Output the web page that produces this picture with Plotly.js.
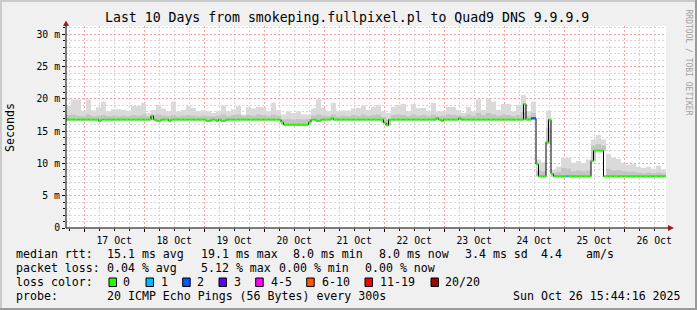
<!DOCTYPE html>
<html><head><meta charset="utf-8">
<script src="https://cdn.plot.ly/plotly-3.0.1.min.js"></script>
<style>html,body{margin:0;padding:0;background:#f0f0f0;}#chart{width:697px;height:310px;}</style>
</head><body><div id="chart"></div>
<script>
// ---- data ----
const startTime = Date.UTC(2025, 9, 16, 16, 44, 16);
const endTime = Date.UTC(2025, 9, 26, 16, 44, 16);
const titleText = 'Last 10 Days from smokeping.fullpixel.pl to Quad9 DNS 9.9.9.9';
const yTickVals = [0, 5, 10, 15, 20, 25, 30];
const yTickText = ['0', '5 m', '10 m', '15 m', '20 m', '25 m', '30 m'];
const yMinorVals = [1,2,3,4,6,7,8,9,11,12,13,14,16,17,18,19,21,22,23,24,26,27,28,29,31];

// hourly median RTT (ms), 240 hours
const medianRtt = [
16.8,16.8,16.8,16.8,16.8,16.8,16.8,16.8,16.8,16.8,16.8,16.8,16.8,16.6,16.8,16.8,16.8,16.8,16.8,16.8,16.8,16.8,16.8,16.8,
16.8,16.8,16.8,16.8,16.8,16.8,16.8,16.8,16.8,16.8,17.4,16.8,16.6,16.6,16.8,16.8,16.8,16.6,16.8,16.8,16.8,16.8,16.8,16.8,
16.8,16.8,16.8,16.8,16.8,16.8,16.8,16.8,16.6,16.6,16.8,16.8,16.6,16.8,16.6,16.6,16.8,16.8,16.8,16.8,16.8,16.8,16.8,16.8,
16.8,16.8,16.8,16.8,16.8,16.8,16.8,16.8,16.8,16.8,16.8,16.8,16.8,16.8,16.4,16.0,16.0,16.0,16.0,16.0,16.0,16.0,16.0,16.0,
16.0,16.4,16.8,16.8,16.6,16.6,16.8,16.8,16.8,16.8,17.0,16.8,16.8,16.8,16.8,16.8,16.8,16.8,16.8,16.8,16.8,16.8,16.8,16.8,
16.8,16.8,16.8,16.8,16.8,16.8,16.8,16.3,15.9,16.8,16.8,16.8,16.8,16.8,16.8,16.8,16.8,16.8,16.8,16.8,16.8,16.8,16.8,16.8,
16.8,16.8,16.8,16.8,17.0,16.8,16.6,16.8,16.8,16.8,16.8,16.8,16.8,17.0,16.8,16.8,16.8,16.8,16.8,16.8,16.8,16.8,16.8,16.8,
16.8,16.8,16.8,16.8,16.8,16.8,16.8,16.8,16.8,16.8,16.8,16.8,16.8,16.8,16.8,19.2,16.8,16.8,17.0,17.0,9.9,8.0,8.0,8.0,
13.3,16.8,8.4,8.0,8.0,8.0,8.0,8.0,8.0,8.0,8.0,8.0,8.0,8.0,8.0,8.0,8.0,8.0,10.4,12.0,12.0,12.0,12.0,8.0,
8.0,8.0,8.0,8.0,8.0,8.0,8.0,8.0,8.0,8.0,8.0,8.0,8.0,8.0,8.0,8.0,8.0,8.0,8.0,8.0,8.0,8.0,8.0,8.0
];
// hours with packet loss and the number of lost pings
const lossHours = [186, 187, 200];
const lossCounts = [2, 2, 1];

// smoke per 2-hour bin, 120 bins (ms)
const smokeLo = [
16.7,16.7,16.7,16.7,16.7,16.7,16.7,16.7,16.7,16.7,16.7,16.7,16.7,16.7,16.7,16.7,16.7,16.7,16.7,16.7,16.7,16.7,16.7,16.7,
16.7,16.7,16.7,16.7,16.7,16.7,16.7,16.7,16.7,16.7,16.7,16.7,16.7,16.7,16.7,16.7,16.7,16.7,16.7,16.0,16.0,16.0,16.0,16.0,
16.0,16.7,16.7,16.7,16.7,16.7,16.7,16.7,16.7,16.7,16.7,16.7,16.7,16.7,16.7,16.3,15.9,16.7,16.7,16.7,16.7,16.7,16.7,16.7,
16.7,16.7,16.7,16.7,16.7,16.7,16.7,16.7,16.7,16.7,16.7,16.7,16.7,16.7,16.7,16.7,16.7,16.7,16.7,16.7,16.7,16.7,8.0,8.0,
13.0,8.0,8.0,8.0,8.0,8.0,8.0,8.0,8.0,10.4,12.0,12.0,8.0,8.0,8.0,8.0,8.0,8.0,8.0,8.0,8.0,8.0,8.0,8.0
];
const smokeMid = [
17.5,17.6,17.4,17.3,17.6,17.3,17.4,17.5,17.3,17.4,17.3,17.4,17.3,17.5,17.4,17.6,17.3,17.5,17.6,17.4,17.3,17.5,17.3,17.4,
17.5,17.4,17.3,17.4,17.3,17.3,17.4,17.6,17.3,17.5,17.6,17.3,17.5,17.4,17.6,17.5,17.3,17.6,17.4,16.8,16.9,16.8,16.9,16.8,
16.9,17.4,17.6,17.4,17.3,17.6,17.3,17.4,17.3,17.5,17.4,17.6,17.4,17.5,17.6,17.2,16.8,17.5,17.6,17.5,17.3,17.6,17.4,17.5,
17.3,17.6,17.3,17.4,17.6,17.5,17.4,17.3,17.6,17.4,17.8,17.5,17.8,17.6,17.4,17.6,17.5,17.3,17.5,18.0,17.3,17.8,8.9,8.8,
15.5,8.5,8.7,9.3,9.2,8.8,8.9,8.8,8.9,12.8,13.0,12.8,9.2,8.9,9.0,8.8,8.7,8.7,8.6,8.5,8.6,8.5,8.6,8.5
];
const smokeHi = [
18.9,19.9,19.9,18.2,19.9,18.2,18.7,19.6,18.1,18.4,18.4,18.3,18.1,18.9,18.9,19.4,17.8,18.3,19.1,18.5,18.1,19.6,18.1,18.3,
18.9,18.6,18.1,18.2,18.1,17.8,18.1,19.0,18.1,18.4,18.9,17.6,18.7,18.5,18.8,18.7,18.1,19.4,18.3,17.6,18.1,17.8,18.1,17.6,
17.6,18.5,19.9,18.6,18.1,19.4,18.1,18.2,18.2,18.5,18.6,19.0,18.3,18.8,19.1,18.1,17.8,18.8,19.1,19.2,18.1,19.2,18.6,18.6,
18.1,19.4,18.1,18.1,18.8,18.8,18.3,17.8,18.8,18.1,19.9,18.3,20.1,19.6,18.3,19.2,19.2,18.1,19.1,20.6,18.1,19.6,10.6,10.2,
18.2,9.0,9.5,10.9,10.9,10.1,10.4,10.1,10.6,13.7,14.4,13.7,11.5,10.9,10.7,10.1,9.8,9.9,9.5,9.3,9.5,9.2,9.6,9.1
];

const lossLabels = ['0', '1', '2', '3', '4-5', '6-10', '11-19', '20/20'];
const lossColors = ['#26ff00', '#00b8ff', '#0059ff', '#6200ff', '#ff00ff', '#ff5500', '#ff0000', '#a10000'];
const statRows = [
  ['median rtt:', '15.1 ms avg', '19.1 ms max', '8.0 ms min', '8.0 ms now', '3.4 ms sd', '4.4', 'am/s'],
  ['packet loss:', '0.04 % avg', '5.12 % max', '0.00 % min', '0.00 % now'],
  ['probe:', '20 ICMP Echo Pings (56 Bytes) every 300s', 'Sun Oct 26 15:44:16 2025']
];
const lossRowLabel = 'loss color:';
const credit = 'RRDTOOL / TOBI OETIKER';
const yTitle = 'Seconds';

// ---- helpers ----
const HOUR = 3600000;
function ts(ms) { return new Date(ms).toISOString().replace('T', ' ').replace('Z', ''); }
function stepXY(values, stepH) {
  const x = [], y = [];
  for (let i = 0; i < values.length; i++) { x.push(ts(startTime + i * stepH * HOUR)); y.push(values[i]); }
  x.push(ts(startTime + values.length * stepH * HOUR)); y.push(values[values.length - 1]);
  return {x, y};
}
function lossIndex(c) {
  if (c <= 0) return 0; if (c <= 3) return c; if (c <= 5) return 4; if (c <= 10) return 5; if (c <= 19) return 6; return 7;
}
const lossByHour = {};
lossHours.forEach((h, k) => { lossByHour[h] = lossIndex(lossCounts[k]); });

const traces = [];
const lo = stepXY(smokeLo, 2), mid = stepXY(smokeMid, 2), hi = stepXY(smokeHi, 2);
const base = {type: 'scatter', mode: 'lines', hoverinfo: 'skip'};
traces.push(Object.assign({}, base, {x: lo.x, y: lo.y, line: {shape: 'hv', width: 0}}));
traces.push(Object.assign({}, base, {x: hi.x, y: hi.y, line: {shape: 'hv', width: 0}, fill: 'tonexty', fillcolor: '#dadada'}));
traces.push(Object.assign({}, base, {x: lo.x, y: lo.y, line: {shape: 'hv', width: 0}}));
traces.push(Object.assign({}, base, {x: mid.x, y: mid.y, line: {shape: 'hv', width: 0}, fill: 'tonexty', fillcolor: '#c4c4c4'}));
const med = stepXY(medianRtt, 1);
traces.push(Object.assign({}, base, {x: med.x, y: med.y, line: {shape: 'hv', width: 1, color: '#000000'}}));
// loss-coloured horizontal segments
const segs = {};
for (let j = 0; j < medianRtt.length; j++) {
  const li = lossByHour[j] || 0;
  if (!segs[li]) segs[li] = {x: [], y: []};
  segs[li].x.push(ts(startTime + j * HOUR), ts(startTime + (j + 1) * HOUR), null);
  segs[li].y.push(medianRtt[j], medianRtt[j], null);
}
Object.keys(segs).forEach(li => {
  traces.push(Object.assign({}, base, {x: segs[li].x, y: segs[li].y, line: {width: 2, color: lossColors[li]}}));
});

// ---- layout ----
const L = 66, T = 26, W = 600, H = 202;
function px(x) { return (x - L) / W; }
function py(y) { return (T + H - y) / H; }
const MONO = 'DejaVu Sans Mono';
function ann(x, y, s, extra) {
  return Object.assign({xref: 'paper', yref: 'paper', x: px(x), y: py(y), text: s, showarrow: false,
    xanchor: 'left', yanchor: 'middle', borderpad: 0, borderwidth: 0,
    font: {family: MONO, size: 11.6, color: '#000'}}, extra || {});
}
const annotations = [];
annotations.push(ann(347, 18, titleText, {xanchor: 'center', font: {family: MONO, size: 13.2, color: '#000'}}));
annotations.push(ann(10, 128, yTitle, {xanchor: 'center', textangle: -90}));
annotations.push(ann(688.5, 62, credit, {xanchor: 'center', textangle: 90, font: {family: MONO, size: 8, color: '#a0a0a0'}}));
const rowY = [254.3, 268.3, 296];
const rowX = [
  [16, 107.3, 201, 292.7, 379.3, 465, 541, 586],
  [16, 107.3, 201, 279.3, 365],
  [16, 107.3, 513.3]
];
statRows.forEach((row, r) => row.forEach((s, k) => annotations.push(ann(rowX[r][k], rowY[r], s))));
annotations.push(ann(16, 282.3, lossRowLabel));
const boxX = [109, 146, 182.7, 219, 255.7, 306.7, 365, 431];
const labX = [123.3, 160.7, 197.3, 234, 270.7, 321.7, 380, 445];
const shapes = [];
lossLabels.forEach((s, k) => {
  annotations.push(ann(labX[k], 282.3, s));
  shapes.push({type: 'rect', xref: 'paper', yref: 'paper', x0: px(boxX[k]), x1: px(boxX[k] + 7.5), y0: py(278), y1: py(286.5),
    fillcolor: lossColors[k], line: {color: '#000', width: 1}});
});
function pathPx(pts) { return 'M' + pts.map(p => px(p[0]) + ',' + py(p[1])).join(' L') + ' Z'; }
const arrowCol = '#9b1b1b';
shapes.push({type: 'line', xref: 'paper', yref: 'paper', x0: px(66), x1: px(66), y0: py(228), y1: py(23), line: {color: '#000', width: 1}});
shapes.push({type: 'line', xref: 'paper', yref: 'paper', x0: px(66), x1: px(669), y0: py(228), y1: py(228), line: {color: '#000', width: 1}});
shapes.push({type: 'path', xref: 'paper', yref: 'paper', path: pathPx([[63, 26], [69, 26], [66, 20.5]]), fillcolor: arrowCol, line: {width: 0}});
shapes.push({type: 'path', xref: 'paper', yref: 'paper', path: pathPx([[668, 225], [668, 231], [674, 228]]), fillcolor: arrowCol, line: {width: 0}});
// frame
shapes.push({type: 'rect', xref: 'paper', yref: 'paper', x0: px(0), x1: px(697), y0: py(0), y1: py(2), fillcolor: '#cbcbcb', line: {width: 0}});
shapes.push({type: 'rect', xref: 'paper', yref: 'paper', x0: px(0), x1: px(2), y0: py(0), y1: py(310), fillcolor: '#cbcbcb', line: {width: 0}});
shapes.push({type: 'rect', xref: 'paper', yref: 'paper', x0: px(0), x1: px(697), y0: py(308), y1: py(310), fillcolor: '#9a9a9a', line: {width: 0}});
shapes.push({type: 'rect', xref: 'paper', yref: 'paper', x0: px(695), x1: px(697), y0: py(0), y1: py(310), fillcolor: '#9a9a9a', line: {width: 0}});

const layout = {
  width: 697, height: 310,
  margin: {l: L, r: 697 - L - W, t: T, b: 310 - T - H, pad: 0},
  paper_bgcolor: '#f0f0f0', plot_bgcolor: '#ffffff',
  showlegend: false,
  font: {family: MONO, size: 10, color: '#000'},
  xaxis: {
    type: 'date', range: [ts(startTime), ts(endTime)], fixedrange: true,
    tick0: '2025-10-17', dtick: 86400000, ticklabelmode: 'period', tickformat: '%d %b',
    showgrid: true, gridcolor: '#f3a3a3', griddash: '2px,2px', gridwidth: 1,
    minor: {dtick: 6 * HOUR, tick0: '2025-10-17', showgrid: true, gridcolor: '#d6d6d6', griddash: '2px,2px', gridwidth: 1,
            ticks: 'outside', ticklen: 2, tickcolor: '#000'},
    ticks: 'outside', ticklen: 3, tickcolor: '#000',
    showline: false, zeroline: false,
    tickfont: {family: MONO, size: 9.8, color: '#000'}
  },
  yaxis: {
    range: [0, 31.3], fixedrange: true,
    tickmode: 'array', tickvals: yTickVals, ticktext: yTickText,
    showgrid: true, gridcolor: '#f3a3a3', griddash: '2px,2px', gridwidth: 1,
    minor: {tickmode: 'array', tickvals: yMinorVals, showgrid: true, gridcolor: '#d6d6d6', griddash: '2px,2px', gridwidth: 1,
            ticks: 'outside', ticklen: 2, tickcolor: '#000'},
    ticks: 'outside', ticklen: 3, tickcolor: '#000',
    showline: false, zeroline: false,
    tickfont: {family: MONO, size: 9.8, color: '#000'}
  },
  annotations: annotations,
  shapes: shapes
};
Plotly.newPlot('chart', traces, layout, {displayModeBar: false, staticPlot: true});
</script>
</body></html>
